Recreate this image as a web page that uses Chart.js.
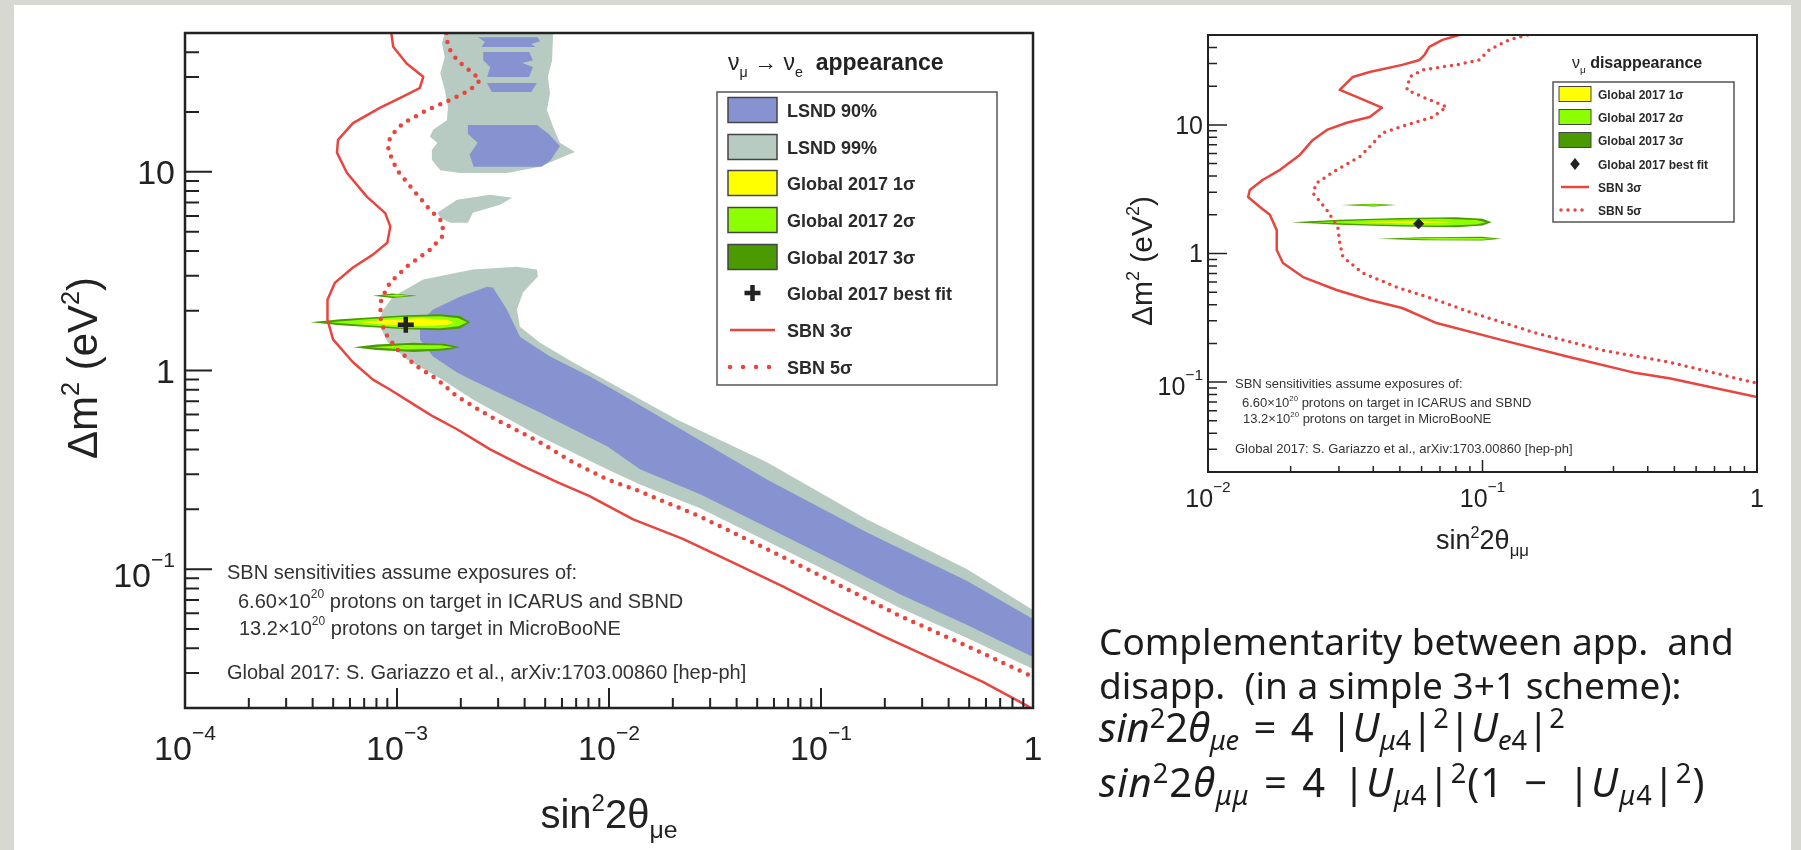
<!DOCTYPE html>
<html>
<head>
<meta charset="utf-8">
<title>SBN appearance / disappearance sensitivity</title>
<script src="https://cdn.jsdelivr.net/npm/chart.js@4.4.1/dist/chart.umd.min.js"></script>
<style>
  html, body { margin: 0; padding: 0; }
  body { width: 1801px; height: 850px; background: #d8d8d3; position: relative; overflow: hidden; }
  #slide { position: absolute; left: 14px; top: 5px; width: 1777px; height: 845px; background: #fff; }
  #appChart { position: absolute; left: 0; top: 0; }
  #disChart { position: absolute; left: 1100px; top: 0; }
  .line { position: absolute; left: 1099px; font-family: "Noto Sans", sans-serif; font-size: 37px; line-height: 37px; color: #1c1c1c; white-space: nowrap; }
  .line.math { font-size: 40px; line-height: 40px; }
  .line sup, .line sub { font-size: 0.68em; line-height: 0; position: relative; vertical-align: baseline; }
  .line sup { top: -0.5em; }
  .line sub { top: 0.28em; }
  .line .rel { margin: 0 0.36em; }
  .line .bin { margin: 0 0.5em; }
  .line .gap { display: inline-block; width: 0.42em; }
</style>
</head>
<body>
<div id="slide"></div>
<canvas id="appChart" width="1100" height="850"></canvas>
<canvas id="disChart" width="701" height="600"></canvas>
<div class="line" style="top:622px">Complementarity between app.&nbsp; and</div>
<div class="line" style="top:666px">disapp.&nbsp; (in a simple 3+1 scheme):</div>
<div class="line math" style="top:707px"><i>sin</i><sup>2</sup>2<i>θ</i><sub><i>μe</i></sub><span class="rel">=</span>4<span class="gap"></span>|<i>U</i><sub><i>μ</i>4</sub>|<sup>2</sup>|<i>U</i><sub><i>e</i>4</sub>|<sup>2</sup></div>
<div class="line math" style="top:762px; letter-spacing:1px"><i>sin</i><sup>2</sup>2<i>θ</i><sub><i>μμ</i></sub><span class="rel">=</span>4<span class="gap"></span>|<i>U</i><sub><i>μ</i>4</sub>|<sup>2</sup>(1<span class="bin">−</span>|<i>U</i><sub><i>μ</i>4</sub>|<sup>2</sup>)</div>
<script>
// ---------- appearance panel (left) ----------
const appXTicks = [1e-4, 1e-3, 1e-2, 1e-1, 1];
const appXLabels = [['10', '−4'], ['10', '−3'], ['10', '−2'], ['10', '−1'], ['1', '']];
const appYTicks = [0.1, 1, 10];
const appYLabels = [['10', '−1'], ['1', ''], ['10', '']];

// LSND allowed regions, [sin^2 2theta, dm^2] outlines
const appLsnd99 = [[8.31e-4,1.66],[8.5e-4,1.98],[9.57e-4,2.35],[1.33e-3,2.87],[2.28e-3,3.22],[3.68e-3,3.33],[4.57e-3,3.22],[4.62e-3,2.97],[3.93e-3,2.47],[3.68e-3,2.03],[3.8e-3,1.66],[4.73e-3,1.38],[6.76e-3,1.10],[2.09e-2,0.567],[5.56e-2,0.345],[0.165,0.178],[0.489,0.100],[1,0.0622],[1,0.0314],[0.489,0.045],[0.236,0.0637],[0.114,0.0944],[5.56e-2,0.138],[2.69e-2,0.2025],[1.40e-2,0.267],[9.79e-3,0.318],[4.73e-3,0.466],[2.28e-3,0.715],[1.63e-3,0.90],[1.114e-3,1.135],[9.07e-4,1.38]];
const appLsnd99Top = [[1.68e-3,50],[1.63e-3,44.5],[1.68e-3,37.8],[1.6e-3,31.4],[1.68e-3,25.8],[1.74e-3,21.2],[1.72e-3,18.2],[1.48e-3,16.3],[1.43e-3,15.0],[1.55e-3,14.0],[1.46e-3,12.9],[1.46e-3,11.5],[1.6e-3,10.2],[1.98e-3,9.88],[3.3e-3,9.88],[4.73e-3,10.6],[6.07e-3,11.9],[6.91e-3,12.6],[5.87e-3,14.0],[5.45e-3,16.8],[5.1e-3,20.5],[5.27e-3,24.9],[5.15e-3,30.0],[5.39e-3,36.5],[5.45e-3,50]];
const appLsnd99Mid = [[1.55e-3,6.22],[1.92e-3,7.23],[2.75e-3,7.66],[3.49e-3,7.4],[3.06e-3,6.82],[2.28e-3,6.22],[2.16e-3,5.54],[1.78e-3,5.54],[1.6e-3,5.87]];
const appLsnd90 = [[2.66e-3,2.64],[2.84e-3,2.61],[3.3e-3,2.03],[3.8e-3,1.48],[5.27e-3,1.175],[8.13e-3,0.933],[1.045e-2,0.803],[5.56e-2,0.283],[0.165,0.153],[0.489,0.0871],[1,0.0561],[1,0.0361],[0.489,0.0523],[0.236,0.0748],[0.114,0.111],[5.56e-2,0.1626],[2.69e-2,0.238],[1.40e-2,0.318],[9.79e-3,0.415],[4.73e-3,0.615],[2.28e-3,0.891],[1.92e-3,0.977],[1.479e-3,1.175],[1.284e-3,1.43],[1.284e-3,1.74],[1.479e-3,2.03],[1.98e-3,2.35]];
const appLsnd90TopA = [[2.41e-3,47.6],[4.6e-3,47.6],[4.73e-3,45.5],[4.3e-3,44],[4.5e-3,42.5],[2.5e-3,42.5],[2.6e-3,45]];
const appLsnd90TopB = [[2.55e-3,40.1],[4.2e-3,40.1],[4.38e-3,36.5],[3.9e-3,35.3],[4.38e-3,33.7],[4.2e-3,30.0],[2.66e-3,30.0],[2.75e-3,33.7],[2.55e-3,36.5]];
const appLsnd90TopC = [[2.66e-3,28.0],[4.57e-3,28.0],[4.3e-3,25.2],[2.8e-3,25.2]];
const appLsnd90TopD = [[2.16e-3,17.2],[4.57e-3,17.2],[5.2e-3,15.5],[5.87e-3,13.5],[5.3e-3,11.4],[4.8e-3,10.6],[2.3e-3,10.6],[2.2e-3,12.2],[2.4e-3,14.0],[2.16e-3,15.5]];

// Global 2017 fit contours
const appGlob3 = [[3.9e-4,1.75],[5.4e-4,1.81],[7.7e-4,1.853],[1.11e-3,1.897],[1.6e-3,1.92],[1.98e-3,1.88],[2.21e-3,1.75],[1.98e-3,1.625],[1.6e-3,1.594],[1.11e-3,1.612],[7.7e-4,1.651],[5.4e-4,1.69]];
const appGlob3Up = [[7.7e-4,2.38],[9.5e-4,2.44],[1.24e-3,2.38],[9.5e-4,2.32]];
const appGlob3Low = [[6.2e-4,1.31],[8e-4,1.35],[1.2e-3,1.38],[1.7e-3,1.36],[1.98e-3,1.31],[1.7e-3,1.265],[1.2e-3,1.24],[8e-4,1.27]];
const appGlob2 = [[4.8e-4,1.75],[6.7e-4,1.80],[1.03e-3,1.86],[1.6e-3,1.875],[1.95e-3,1.83],[2.14e-3,1.75],[1.95e-3,1.67],[1.6e-3,1.632],[1.03e-3,1.645],[6.7e-4,1.70]];
const appGlob2Up = [[8.5e-4,2.38],[1.0e-3,2.41],[1.15e-3,2.38],[1.0e-3,2.35]];
const appGlob2Low = [[7.5e-4,1.31],[1.1e-3,1.345],[1.6e-3,1.34],[1.85e-3,1.31],[1.6e-3,1.285],[1.1e-3,1.275]];
const appGlob1 = [[6.7e-4,1.75],[9e-4,1.80],[1.3e-3,1.83],[1.72e-3,1.80],[1.85e-3,1.75],[1.72e-3,1.70],[1.3e-3,1.67],[9e-4,1.70]];
const appBest = [[1.1e-3, 1.7]];

// SBN sensitivity curves
const appSbn3 = [[9.4e-4,50],[9.6e-4,42.6],[1.11e-3,35.1],[1.33e-3,30.1],[1.28e-3,26.4],[1.03e-3,23.5],[8.3e-4,21.0],[6.2e-4,17.6],[5.27e-4,14.5],[5.21e-4,12.5],[5.8e-4,9.9],[7.2e-4,7.5],[8.8e-4,6.2],[9.3e-4,5.3],[9.0e-4,4.4],[7.7e-4,3.83],[6.2e-4,3.3],[5.1e-4,2.77],[4.7e-4,2.27],[4.7e-4,1.8],[5.0e-4,1.43],[6.2e-4,1.1],[7.7e-4,0.9],[9.3e-4,0.8],[1.24e-3,0.66],[1.48e-3,0.587],[1.92e-3,0.506],[2.75e-3,0.401],[3.93e-3,0.33],[5.7e-3,0.274],[8.1e-3,0.233],[1.3e-2,0.178],[2.23e-2,0.142],[3.85e-2,0.108],[6.6e-2,0.082],[0.114,0.061],[0.196,0.046],[0.337,0.0353],[0.58,0.0271],[0.94,0.0205],[1,0.0196]];
const appSbn5 = [[1.71e-3,50],[1.74e-3,42.6],[1.92e-3,36.5],[2.28e-3,31.4],[2.47e-3,29.0],[2.21e-3,25.8],[1.78e-3,23.0],[1.39e-3,20.5],[1.07e-3,17.6],[9.27e-4,15.0],[9.08e-4,12.9],[1.0e-3,10.2],[1.19e-3,8.13],[1.43e-3,6.45],[1.65e-3,5.54],[1.63e-3,4.71],[1.43e-3,4.05],[1.11e-3,3.33],[9.27e-4,2.77],[8.42e-4,2.27],[8.32e-4,1.87],[8.77e-4,1.55],[1.0e-3,1.28],[1.24e-3,1.05],[1.55e-3,0.90],[1.92e-3,0.74],[2.75e-3,0.587],[4.73e-3,0.435],[6.76e-3,0.345],[9.8e-3,0.283],[1.35e-2,0.25],[2.69e-2,0.184],[5.56e-2,0.126],[0.114,0.0861],[0.236,0.0581],[0.489,0.041],[1,0.0287]];

// ---------- disappearance panel (right) ----------
const disXTicks = [1e-2, 1e-1, 1];
const disXLabels = [['10', '−2'], ['10', '−1'], ['1', '']];
const disYTicks = [0.1, 1, 10];
const disYLabels = [['10', '−1'], ['1', ''], ['10', '']];

const disGlob3 = [[0.0201,1.75],[0.03,1.83],[0.05,1.89],[0.08,1.915],[0.1,1.86],[0.108,1.75],[0.1,1.65],[0.08,1.60],[0.05,1.62],[0.03,1.67]];
const disGlob3Up = [[0.0306,2.38],[0.04,2.44],[0.0486,2.38],[0.04,2.32]];
const disGlob3Low = [[0.0416,1.30],[0.06,1.34],[0.1,1.35],[0.117,1.30],[0.1,1.26],[0.06,1.265]];
const disGlob2 = [[0.0241,1.75],[0.04,1.82],[0.07,1.86],[0.095,1.82],[0.103,1.75],[0.095,1.68],[0.07,1.645],[0.04,1.68]];
const disGlob2Up = [[0.034,2.38],[0.04,2.41],[0.046,2.38],[0.04,2.35]];
const disGlob2Low = [[0.05,1.30],[0.07,1.325],[0.1,1.322],[0.11,1.30],[0.1,1.28],[0.07,1.278]];
const disGlob1 = [[0.036,1.75],[0.055,1.79],[0.08,1.75],[0.055,1.71]];
const disBest = [[0.0585, 1.7]];

const disSbn3 = [[0.082,50],[0.0715,45.8],[0.064,40.4],[0.0615,35.1],[0.059,32],[0.051,29.3],[0.0388,25.8],[0.0337,23.6],[0.0302,18.7],[0.0348,16.5],[0.043,13.6],[0.0388,11.5],[0.032,10.4],[0.0271,9.14],[0.0241,7.64],[0.0216,5.84],[0.0183,4.47],[0.0158,3.73],[0.0142,3.12],[0.014,2.75],[0.01545,2.3],[0.0168,2.0],[0.0178,1.52],[0.0178,1.065],[0.01875,0.843],[0.0222,0.656],[0.0294,0.52],[0.0388,0.435],[0.051,0.377],[0.068,0.288],[0.118,0.212],[0.207,0.157],[0.363,0.1175],[0.479,0.107],[1,0.0764]];
const disSbn5 = [[0.146,50],[0.125,45.8],[0.106,38.4],[0.0975,32],[0.0804,29.3],[0.0605,26.8],[0.0543,23.6],[0.053,18.7],[0.0605,16.5],[0.074,13.8],[0.0658,11.5],[0.053,10],[0.0432,8.67],[0.0388,6.74],[0.0357,5.64],[0.0294,4.47],[0.0249,3.54],[0.0241,2.96],[0.0271,2.18],[0.0297,1.61],[0.0302,1.21],[0.031,0.94],[0.0366,0.705],[0.0486,0.548],[0.068,0.435],[0.09,0.35],[0.157,0.24],[0.273,0.177],[0.479,0.143],[1,0.098]];

const C = { lsnd90: '#8793d0', lsnd99: '#b7cbc2', g1: '#ffff00', g2: '#8cff00', g3: '#4b9a00', red: '#e8453f', ink: '#222' };
const FONT = '"Liberation Sans", Arial, sans-serif';

// Chart.js clips a 'shape' fill to the x span between the first and last point,
// so each outline starts at its leftmost vertex and ends with a hop to the rightmost one.
function closeShape(pts) {
  let lo = 0, hi = 0;
  pts.forEach((p, i) => {
    if (p[0] < pts[lo][0]) lo = i;
    if (p[0] > pts[hi][0]) hi = i;
  });
  const ring = pts.slice(lo).concat(pts.slice(0, lo + 1), [pts[hi]]);
  return ring.map(([x, y]) => ({x, y}));
}

function area(label, pts, color, order) {
  return { label, data: closeShape(pts), showLine: true, fill: 'shape', backgroundColor: color,
    borderColor: 'rgba(0,0,0,0)', borderWidth: 0, pointRadius: 0, tension: 0, order };
}

function curve(label, pts, width, dash, order) {
  return { label, data: pts.map(([x, y]) => ({x, y})), showLine: true, fill: false,
    borderColor: C.red, borderWidth: width, borderDash: dash,
    borderCapStyle: dash.length ? 'round' : 'butt', borderJoinStyle: 'round',
    pointRadius: 0, tension: 0, order };
}

function marker(label, pts, style, radius, width, order) {
  return { label, data: pts.map(([x, y]) => ({x, y})), showLine: false, pointStyle: style,
    pointRadius: radius, pointBorderWidth: width, pointBorderColor: C.ink, pointBackgroundColor: C.ink, order };
}

// text with super/subscripts, parts: {t, s:'sup'|'sub', b, i}
function drawRich(ctx, parts, x, y, size, align, o) {
  o = Object.assign({ sup: 0.62, raise: 0.45, sub: 0.62, lower: 0.25, color: C.ink, family: FONT, bold: false }, o || {});
  const seg = parts.map(p => {
    const s = p.s ? size * (p.s === 'sup' ? o.sup : o.sub) : size;
    const font = (p.i ? 'italic ' : '') + ((p.b || o.bold) ? 'bold ' : '') + s + 'px ' + o.family;
    ctx.font = font;
    const dy = p.s === 'sup' ? -size * o.raise : p.s === 'sub' ? size * o.lower : 0;
    return { t: p.t, font, dy, w: ctx.measureText(p.t).width };
  });
  const total = seg.reduce((a, q) => a + q.w, 0);
  let cx = align === 'center' ? x - total / 2 : align === 'right' ? x - total : x;
  ctx.textAlign = 'left';
  ctx.textBaseline = 'alphabetic';
  ctx.fillStyle = o.color;
  seg.forEach(q => { ctx.font = q.font; ctx.fillText(q.t, cx, y + q.dy); cx += q.w; });
  return total;
}

function powParts(base, exp) {
  return exp ? [{t: base}, {t: exp, s: 'sup'}] : [{t: base}];
}

function logSteps(min, max, cb) {
  for (let d = Math.floor(Math.log10(min)); d <= Math.ceil(Math.log10(max)); d++) {
    for (let k = 1; k <= 9; k++) {
      const v = k * Math.pow(10, d);
      if (v >= min * 0.999 && v <= max * 1.001) cb(v, k === 1);
    }
  }
}

function drawLegend(ctx, L) {
  const [x0, y0, x1, y1] = L.box;
  ctx.save();
  drawRich(ctx, L.title, L.titleX, L.titleY, L.titleSize, 'left', { sub: 0.62, lower: 0.3 });
  ctx.fillStyle = '#fff';
  ctx.fillRect(x0, y0, x1 - x0, y1 - y0);
  ctx.strokeStyle = '#555';
  ctx.lineWidth = L.border;
  ctx.strokeRect(x0, y0, x1 - x0, y1 - y0);
  L.items.forEach((it, i) => {
    const cy = L.rows[i], sx = L.swatchX, sw = L.swatchW, sh = L.swatchH;
    if (it.kind === 'box') {
      ctx.fillStyle = it.color;
      ctx.fillRect(sx, cy - sh / 2, sw, sh);
      ctx.strokeStyle = '#444';
      ctx.lineWidth = L.swatchBorder;
      ctx.strokeRect(sx, cy - sh / 2, sw, sh);
    } else if (it.kind === 'line') {
      ctx.strokeStyle = C.red;
      ctx.lineWidth = it.width;
      ctx.setLineDash(it.dash);
      ctx.lineCap = it.dash.length ? 'round' : 'butt';
      ctx.beginPath();
      ctx.moveTo(sx + 2, cy);
      ctx.lineTo(sx + sw - 2, cy);
      ctx.stroke();
      ctx.setLineDash([]);
      ctx.lineCap = 'butt';
    } else if (it.kind === 'cross') {
      const r = it.size;
      ctx.strokeStyle = C.ink;
      ctx.lineWidth = it.width;
      ctx.beginPath();
      ctx.moveTo(sx + sw / 2 - r, cy); ctx.lineTo(sx + sw / 2 + r, cy);
      ctx.moveTo(sx + sw / 2, cy - r); ctx.lineTo(sx + sw / 2, cy + r);
      ctx.stroke();
    } else {
      const r = it.size, mx = sx + sw / 2;
      ctx.fillStyle = C.ink;
      ctx.beginPath();
      ctx.moveTo(mx, cy - r); ctx.lineTo(mx + r * 0.8, cy); ctx.lineTo(mx, cy + r); ctx.lineTo(mx - r * 0.8, cy);
      ctx.closePath();
      ctx.fill();
    }
    drawRich(ctx, [{t: it.text}], L.textX, cy + L.textDy, L.size, 'left', { bold: true, color: '#2a2a2a' });
  });
  ctx.restore();
}

function rootAxes(st) {
  return {
    id: 'rootAxes',
    afterDraw(chart) {
      const {ctx, chartArea: a} = chart;
      const xs = chart.scales.x, ys = chart.scales.y;
      ctx.save();
      ctx.strokeStyle = C.ink;
      ctx.lineWidth = st.tickWidth;
      ctx.beginPath();
      logSteps(xs.min, xs.max, (v, major) => {
        const px = xs.getPixelForValue(v);
        ctx.moveTo(px, a.bottom);
        ctx.lineTo(px, a.bottom - (major ? st.xMajor : st.xMinor));
      });
      logSteps(ys.min, ys.max, (v, major) => {
        const py = ys.getPixelForValue(v);
        ctx.moveTo(a.left, py);
        ctx.lineTo(a.left + (major ? st.yMajor : st.yMinor), py);
      });
      ctx.stroke();
      ctx.lineWidth = st.frame;
      ctx.strokeRect(a.left, a.top, a.right - a.left, a.bottom - a.top);

      const lo = { sup: 0.62, raise: 0.59 };
      st.xTicks.forEach((v, i) => {
        const [b, e] = st.xLabels[i];
        drawRich(ctx, powParts(b, e), xs.getPixelForValue(v), a.bottom + st.xLabelGap, st.labelSize, 'center', lo);
      });
      st.yTicks.forEach((v, i) => {
        const [b, e] = st.yLabels[i];
        const s = st.labelSize;
        const half = e ? (0.59 * s + 0.716 * 0.62 * s) / 2 : 0.716 * s / 2;
        drawRich(ctx, powParts(b, e), a.left - st.yLabelGap, ys.getPixelForValue(v) + half, s, 'right', lo);
      });

      const to = { sup: 0.6, raise: 0.42, sub: 0.62, lower: 0.25 };
      drawRich(ctx, st.xTitle, (a.left + a.right) / 2, st.xTitleY, st.titleSize, 'center', to);
      ctx.save();
      ctx.translate(st.yTitleX, st.yTitleMid);
      ctx.rotate(-Math.PI / 2);
      drawRich(ctx, st.yTitle, 0, 0, st.titleSize + st.yTitleExtra, 'center', to);
      ctx.restore();

      drawLegend(ctx, st.legend);
      st.notes.forEach(n => drawRich(ctx, n.parts, n.x, n.y, st.noteSize, 'left', { sup: 0.6, raise: 0.5, color: '#333' }));
      ctx.restore();
    }
  };
}

const noteLines = [
  [{t: 'SBN sensitivities assume exposures of:'}],
  [{t: '6.60×10'}, {t: '20', s: 'sup'}, {t: ' protons on target in ICARUS and SBND'}],
  [{t: '13.2×10'}, {t: '20', s: 'sup'}, {t: ' protons on target in MicroBooNE'}],
  [{t: 'Global 2017: S. Gariazzo et al., arXiv:1703.00860 [hep-ph]'}]
];

const globItems = [
  {text: 'Global 2017 1σ', kind: 'box', color: C.g1},
  {text: 'Global 2017 2σ', kind: 'box', color: C.g2},
  {text: 'Global 2017 3σ', kind: 'box', color: C.g3}
];

const baseOpts = (xr, yr, pad) => ({
  responsive: false,
  animation: false,
  events: [],
  layout: { padding: pad },
  scales: {
    x: { type: 'logarithmic', min: xr[0], max: xr[1], display: false },
    y: { type: 'logarithmic', min: yr[0], max: yr[1], display: false }
  },
  plugins: { legend: { display: false }, tooltip: { enabled: false } }
});

new Chart(document.getElementById('appChart'), {
  type: 'scatter',
  data: {
    datasets: [
      marker('Global 2017 best fit', appBest, 'cross', 8, 4.5, 1),
      curve('SBN 5σ', appSbn5, 4.5, [0, 9], 2),
      curve('SBN 3σ', appSbn3, 2.5, [], 3),
      area('Global 2017 1σ', appGlob1, C.g1, 4),
      area('Global 2017 2σ', appGlob2, C.g2, 5),
      area('Global 2017 2σ up', appGlob2Up, C.g2, 5),
      area('Global 2017 2σ low', appGlob2Low, C.g2, 5),
      area('Global 2017 3σ', appGlob3, C.g3, 6),
      area('Global 2017 3σ up', appGlob3Up, C.g3, 6),
      area('Global 2017 3σ low', appGlob3Low, C.g3, 6),
      area('LSND 90%', appLsnd90, C.lsnd90, 7),
      area('LSND 90% a', appLsnd90TopA, C.lsnd90, 7),
      area('LSND 90% b', appLsnd90TopB, C.lsnd90, 7),
      area('LSND 90% c', appLsnd90TopC, C.lsnd90, 7),
      area('LSND 90% d', appLsnd90TopD, C.lsnd90, 7),
      area('LSND 99%', appLsnd99, C.lsnd99, 8),
      area('LSND 99% top', appLsnd99Top, C.lsnd99, 8),
      area('LSND 99% mid', appLsnd99Mid, C.lsnd99, 8)
    ]
  },
  options: baseOpts([1e-4, 1], [0.02, 50], { left: 185, top: 33, right: 67, bottom: 142 }),
  plugins: [rootAxes({
    tickWidth: 2, frame: 2.5, xMajor: 20, xMinor: 10, yMajor: 27, yMinor: 14,
    xTicks: appXTicks, xLabels: appXLabels, yTicks: appYTicks, yLabels: appYLabels,
    labelSize: 34, xLabelGap: 52, yLabelGap: 10,
    xTitle: [{t: 'sin'}, {t: '2', s: 'sup'}, {t: '2θ'}, {t: 'μe', s: 'sub'}],
    yTitle: [{t: 'Δm'}, {t: '2', s: 'sup'}, {t: ' (eV'}, {t: '2', s: 'sup'}, {t: ')'}],
    titleSize: 40, yTitleExtra: 2, xTitleY: 828, yTitleX: 97, yTitleMid: 368,
    noteSize: 20,
    notes: [
      {parts: noteLines[0], x: 227, y: 579}, {parts: noteLines[1], x: 238, y: 608},
      {parts: noteLines[2], x: 239, y: 635}, {parts: noteLines[3], x: 227, y: 679}
    ],
    legend: {
      title: [{t: 'ν'}, {t: 'μ', s: 'sub'}, {t: ' → '}, {t: 'ν'}, {t: 'e', s: 'sub'}, {t: '  appearance', b: true}],
      titleX: 728, titleY: 70, titleSize: 23,
      box: [717, 92, 997, 385], border: 1.5, swatchX: 728, swatchW: 49, swatchH: 25, swatchBorder: 1.5,
      rows: [110, 147, 183, 220, 257, 293, 330, 367], textX: 787, textDy: 6.5, size: 18,
      items: [
        {text: 'LSND 90%', kind: 'box', color: C.lsnd90},
        {text: 'LSND 99%', kind: 'box', color: C.lsnd99}
      ].concat(globItems, [
        {text: 'Global 2017 best fit', kind: 'cross', size: 8, width: 4.5},
        {text: 'SBN 3σ', kind: 'line', width: 2.5, dash: []},
        {text: 'SBN 5σ', kind: 'line', width: 4.5, dash: [0, 13]}
      ])
    }
  })]
});

new Chart(document.getElementById('disChart'), {
  type: 'scatter',
  data: {
    datasets: [
      marker('Global 2017 best fit', disBest, 'rectRot', 5, 1, 1),
      curve('SBN 5σ', disSbn5, 3.5, [0, 7], 2),
      curve('SBN 3σ', disSbn3, 2.5, [], 3),
      area('Global 2017 1σ', disGlob1, C.g1, 4),
      area('Global 2017 2σ', disGlob2, C.g2, 5),
      area('Global 2017 2σ up', disGlob2Up, C.g2, 5),
      area('Global 2017 2σ low', disGlob2Low, C.g2, 5),
      area('Global 2017 3σ', disGlob3, C.g3, 6),
      area('Global 2017 3σ up', disGlob3Up, C.g3, 6),
      area('Global 2017 3σ low', disGlob3Low, C.g3, 6)
    ]
  },
  options: baseOpts([0.01, 1], [0.02, 50], { left: 108, top: 35, right: 44, bottom: 128 }),
  plugins: [rootAxes({
    tickWidth: 1.5, frame: 2, xMajor: 12, xMinor: 6, yMajor: 19, yMinor: 9,
    xTicks: disXTicks, xLabels: disXLabels, yTicks: disYTicks, yLabels: disYLabels,
    labelSize: 25, xLabelGap: 35, yLabelGap: 5,
    xTitle: [{t: 'sin'}, {t: '2', s: 'sup'}, {t: '2θ'}, {t: 'μμ', s: 'sub'}],
    yTitle: [{t: 'Δm'}, {t: '2', s: 'sup'}, {t: ' (eV'}, {t: '2', s: 'sup'}, {t: ')'}],
    titleSize: 27, yTitleExtra: 3, xTitleY: 549, yTitleX: 52, yTitleMid: 261,
    noteSize: 13,
    notes: [
      {parts: noteLines[0], x: 135, y: 388}, {parts: noteLines[1], x: 142, y: 407},
      {parts: noteLines[2], x: 143, y: 423}, {parts: noteLines[3], x: 135, y: 453}
    ],
    legend: {
      title: [{t: 'ν'}, {t: 'μ', s: 'sub'}, {t: ' disappearance', b: true}],
      titleX: 472, titleY: 68, titleSize: 16,
      box: [453, 82, 634, 222], border: 1.5, swatchX: 459, swatchW: 32, swatchH: 15, swatchBorder: 1,
      rows: [94, 117, 140, 164, 187, 210], textX: 498, textDy: 4.5, size: 12,
      items: globItems.concat([
        {text: 'Global 2017 best fit', kind: 'diamond', size: 6},
        {text: 'SBN 3σ', kind: 'line', width: 2.5, dash: []},
        {text: 'SBN 5σ', kind: 'line', width: 3.5, dash: [0, 7]}
      ])
    }
  })]
});
</script>
</body>
</html>
